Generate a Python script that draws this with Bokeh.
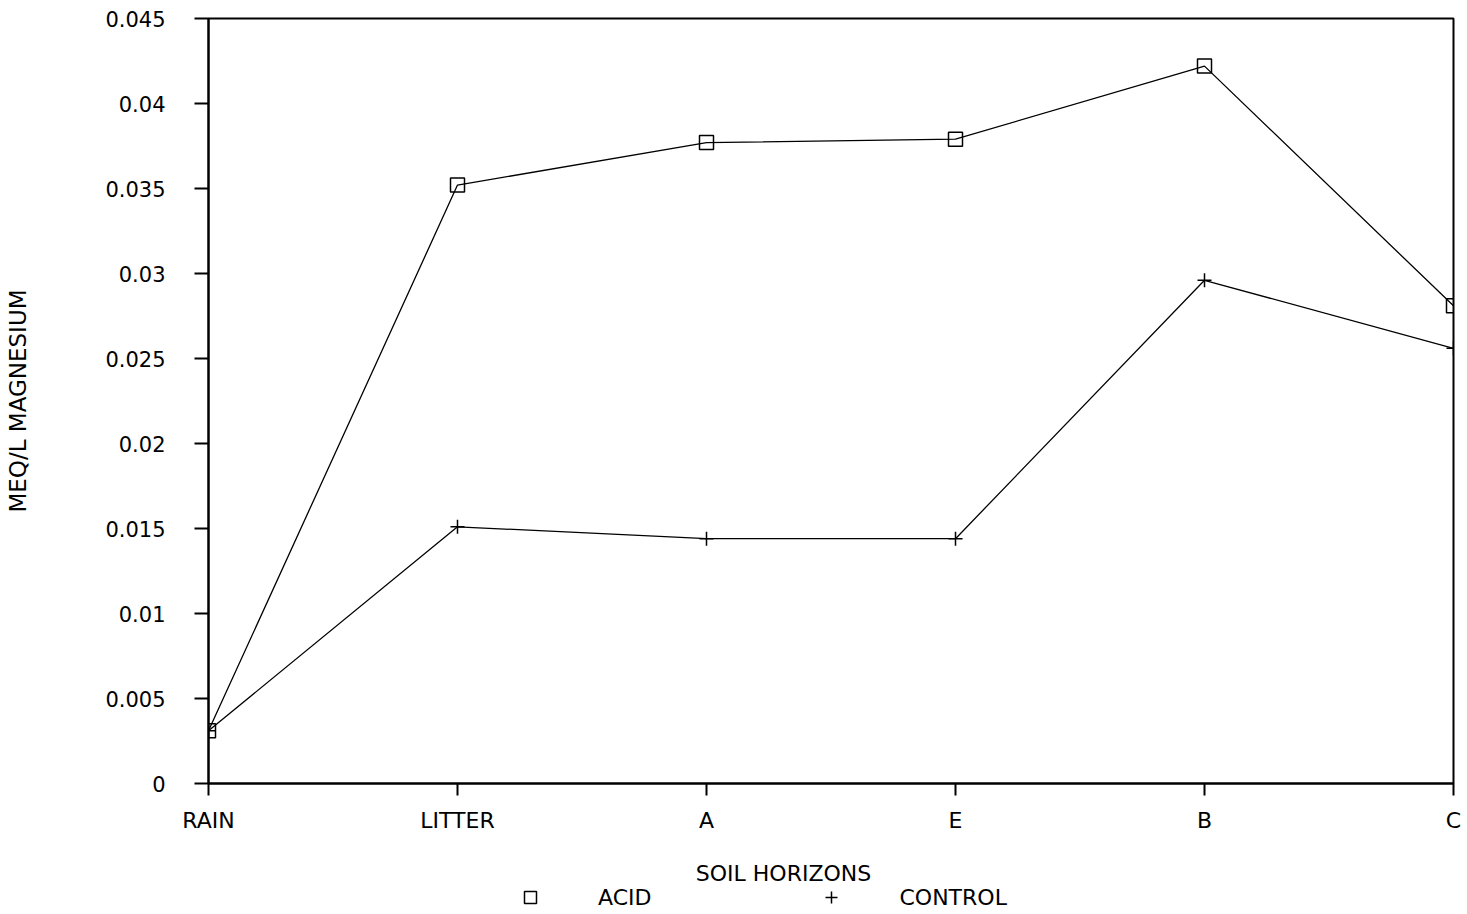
from bokeh.plotting import figure
from bokeh.layouts import column
from bokeh.models import Range1d, FixedTicker, Label, Legend, LegendItem
from bokeh.embed import file_html
from bokeh.resources import INLINE

horizons = ["RAIN", "LITTER", "A", "E", "B", "C"]
acid = [0.0031, 0.0352, 0.0377, 0.0379, 0.0422, 0.0281]
control = [0.0031, 0.0151, 0.0144, 0.0144, 0.0296, 0.0256]
y_ticks = [0, 0.005, 0.01, 0.015, 0.02, 0.025, 0.03, 0.035, 0.04, 0.045]
y_tick_labels = ["0", "0.005", "0.01", "0.015", "0.02", "0.025", "0.03", "0.035", "0.04", "0.045"]

FONT = "DejaVu Sans"
xs = list(range(len(horizons)))

p = figure(width=1463, height=840, output_backend="svg", toolbar_location=None,
           x_range=Range1d(0, 5), y_range=Range1d(0, 0.045),
           min_border_left=208, min_border_right=10, min_border_top=18, min_border_bottom=57)
p.background_fill_color = "white"
p.border_fill_color = "white"
p.outline_line_color = "black"
p.outline_line_width = 2
p.xgrid.visible = False
p.ygrid.visible = False

# axes
p.xaxis.ticker = FixedTicker(ticks=xs)
p.xaxis.major_label_overrides = {i: h for i, h in enumerate(horizons)}
p.xaxis.major_tick_in = 0
p.xaxis.major_tick_out = 12
p.xaxis.minor_tick_out = 0
p.xaxis.minor_tick_in = 0
p.xaxis.major_label_standoff = 12
p.xaxis.major_label_text_font = FONT
p.xaxis.major_label_text_font_size = "22px"
p.xaxis.major_label_text_color = "black"
p.xaxis.axis_line_width = 2
p.xaxis.major_tick_line_width = 2

p.yaxis.ticker = FixedTicker(ticks=y_ticks)
p.yaxis.major_label_overrides = {t: l for t, l in zip(y_ticks, y_tick_labels)}
p.yaxis.major_tick_in = 0
p.yaxis.major_tick_out = 14
p.yaxis.minor_tick_out = 0
p.yaxis.minor_tick_in = 0
p.yaxis.major_label_standoff = 29
p.yaxis.major_label_text_font = FONT
p.yaxis.major_label_text_font_size = "21px"
p.yaxis.major_label_text_color = "black"
p.yaxis.axis_line_width = 2
p.yaxis.major_tick_line_width = 2
p.yaxis.axis_label = "MEQ/L MAGNESIUM"
p.yaxis.axis_label_text_font = FONT
p.yaxis.axis_label_text_font_size = "23px"
p.yaxis.axis_label_text_font_style = "normal"
p.yaxis.axis_label_text_color = "black"
p.yaxis.axis_label_standoff = 71

# series
p.line(xs, acid, line_color="black", line_width=1.3)
p.scatter(xs, acid, marker="square", size=14, fill_color=None, line_color="black", line_width=1.5)
p.line(xs, control, line_color="black", line_width=1.3)
p.scatter(xs, control, marker="cross", size=14, line_color="black", line_width=1.5)

# bottom strip: x-axis title and legend (frame aligned with main frame: 208..1453 px)
p2 = figure(width=1463, height=72, output_backend="svg", toolbar_location=None,
            x_range=Range1d(208, 1453), y_range=Range1d(0, 72),
            x_axis_type=None, y_axis_type=None,
            min_border_left=208, min_border_right=10, min_border_top=0, min_border_bottom=0)
p2.outline_line_color = None
p2.xgrid.visible = False
p2.ygrid.visible = False
p2.background_fill_color = "white"
p2.border_fill_color = "white"

p2.add_layout(Label(x=783, y=39, text="SOIL HORIZONS", text_font=FONT,
                    text_font_size="22px", text_align="center", text_baseline="middle",
                    text_color="black"))

m1 = p2.scatter(x=[-1000], y=[-1000], marker="square", size=13, fill_color=None,
                line_color="black", line_width=1.5)
m2 = p2.scatter(x=[-1000], y=[-1000], marker="cross", size=13, line_color="black", line_width=1.5)

legend = Legend(items=[LegendItem(label="ACID", renderers=[m1]),
                       LegendItem(label="CONTROL", renderers=[m2])],
                location=(307, 0), orientation="horizontal",
                label_text_font=FONT, label_text_font_size="22px", label_text_color="black",
                glyph_width=30, glyph_height=30, label_height=20, label_standoff=53,
                spacing=165, padding=0, margin=0,
                border_line_color=None, background_fill_alpha=0)
p2.add_layout(legend, "center")

layout = column(p, p2, spacing=0)
open("out.html", "w").write(file_html(layout, INLINE))
